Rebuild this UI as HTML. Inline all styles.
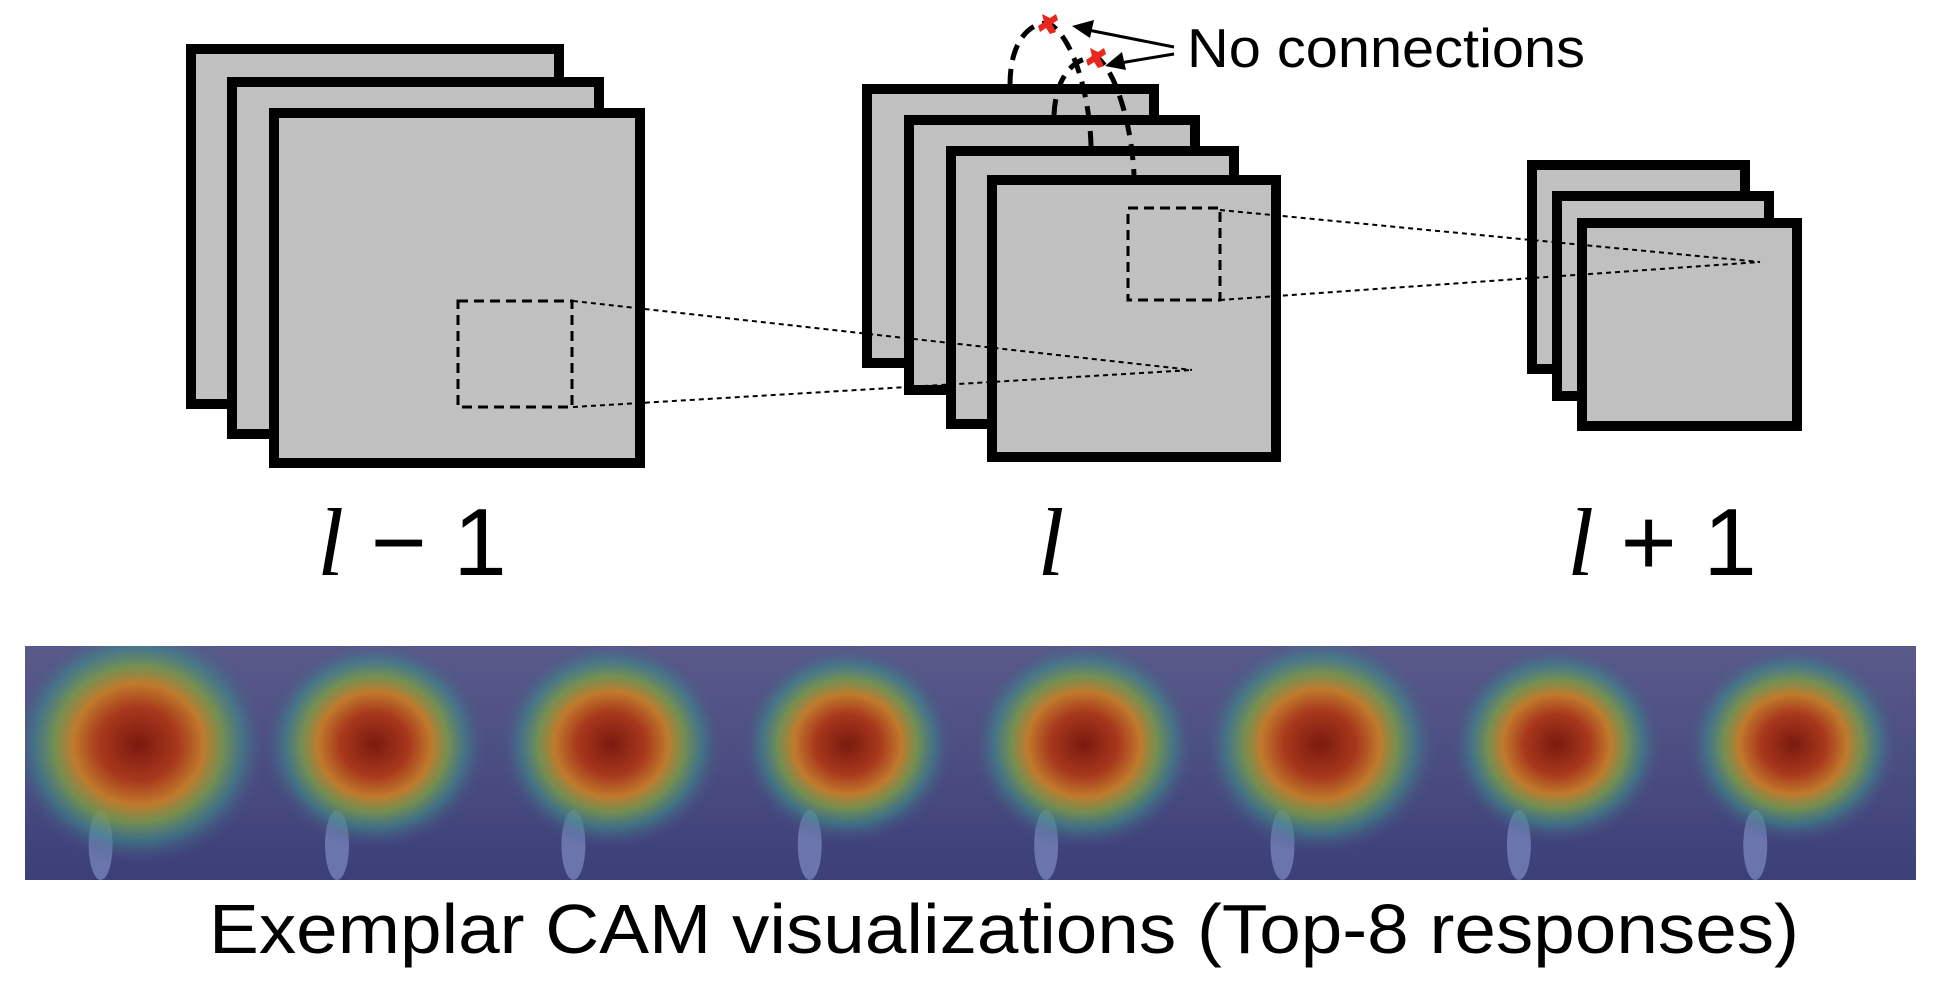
<!DOCTYPE html>
<html><head><meta charset="utf-8"><style>
html,body{margin:0;padding:0;background:#fff;}
svg{display:block;}
text{font-family:"Liberation Sans",sans-serif;}
.m{font-family:"Liberation Serif",serif;font-style:italic;}
</style></head><body>
<svg width="1944" height="1002" viewBox="0 0 1944 1002">
<defs>
<radialGradient id="heat" cx="0.5" cy="0.5" r="0.5">
<stop offset="0" stop-color="#7a1a10"/>
<stop offset="0.3" stop-color="#a8381c"/>
<stop offset="0.5" stop-color="#c07a2c"/>
<stop offset="0.65" stop-color="#7a9a4a" stop-opacity="0.85"/>
<stop offset="0.8" stop-color="#3f8a8a" stop-opacity="0.6"/>
<stop offset="1" stop-color="#4a4f86" stop-opacity="0"/>
</radialGradient>
<linearGradient id="bg" x1="0" y1="0" x2="0" y2="1">
<stop offset="0" stop-color="#5a5a8a"/>
<stop offset="1" stop-color="#3c3f78"/>
</linearGradient>
<clipPath id="stripClip"><rect x="25" y="646" width="1891" height="234"/></clipPath>
</defs>

<g fill="#c0c0c0" stroke="#000" stroke-width="10">
<rect x="191" y="49" width="368" height="355"/>
<rect x="232" y="82" width="367" height="352"/>
<rect x="274" y="113" width="366" height="350"/>
</g>
<rect x="458" y="301" width="114" height="106" fill="none" stroke="#000" stroke-width="3" stroke-dasharray="10,6"/>

<g fill="#c0c0c0" stroke="#000" stroke-width="10">
<rect x="867" y="89" width="287" height="274"/>
<rect x="909" y="120" width="286" height="270"/>
<rect x="951" y="151" width="283" height="273"/>
<rect x="992" y="180" width="284" height="277"/>
</g>
<rect x="1128" y="208" width="92" height="92" fill="none" stroke="#000" stroke-width="3" stroke-dasharray="10,6"/>

<g fill="#c0c0c0" stroke="#000" stroke-width="10">
<rect x="1532" y="165" width="213" height="204"/>
<rect x="1557" y="196" width="212" height="200"/>
<rect x="1582" y="223" width="215" height="203"/>
</g>

<g stroke="#000" stroke-width="2" stroke-dasharray="5,4" fill="none">
<line x1="573" y1="301" x2="1192" y2="370"/>
<line x1="573" y1="407" x2="1192" y2="370"/>
<line x1="1220" y1="210" x2="1760" y2="262"/>
<line x1="1220" y1="300" x2="1760" y2="262"/>
</g>

<g stroke="#000" stroke-width="5" stroke-dasharray="16,9" fill="none">
<path d="M1010,85 C1010,30 1040,20 1050,24 C1075,40 1090,100 1091,146"/>
<path d="M1054,115 C1056,70 1080,55 1098,58 C1118,75 1132,130 1134,175"/>
</g>
<g fill="#e8281e">
<path d="M1042,14 l8,4 l6,-4 l2,6 l-6,4 l4,8 l-6,2 l-4,-6 l-6,4 l-2,-6 l6,-4 z"/>
<path d="M1090,48 l8,4 l6,-4 l2,6 l-6,4 l4,8 l-6,2 l-4,-6 l-6,4 l-2,-6 l6,-4 z"/>
</g>
<g stroke="#000" stroke-width="3" fill="#000">
<line x1="1174" y1="47" x2="1088" y2="30"/>
<polygon points="1072,26 1094,20 1090,38" stroke="none"/>
<line x1="1174" y1="54" x2="1120" y2="63"/>
<polygon points="1105,66 1122,52 1126,70" stroke="none"/>
</g>
<text x="1187" y="67" font-size="55" textLength="398" lengthAdjust="spacingAndGlyphs">No connections</text>

<text x="412" y="575" font-size="96" text-anchor="middle"><tspan class="m">l</tspan> − 1</text>
<text x="1051" y="575" font-size="96" text-anchor="middle" class="m">l</text>
<text x="1662" y="575" font-size="96" text-anchor="middle"><tspan class="m">l</tspan> + 1</text>

<g id="strip" clip-path="url(#stripClip)"></g>

<text x="209" y="953" font-size="70" textLength="1590" lengthAdjust="spacingAndGlyphs">Exemplar CAM visualizations (Top-8 responses)</text>
</svg>
<script>
const tileIndex=[1,2,3,4,5,6,7,8];
const blobScale=[1.15,1.0,1.0,0.95,1.0,1.05,0.95,0.95];
const g=document.getElementById('strip');
const ns='http://www.w3.org/2000/svg';
const x0=25,w=1891/8,y0=646,h=234;
tileIndex.forEach((t,i)=>{
  const tx=x0+i*w;
  const grp=document.createElementNS(ns,'g');
  
  
  const r=document.createElementNS(ns,'rect');
  r.setAttribute('x',tx);r.setAttribute('y',y0);r.setAttribute('width',w+0.5);r.setAttribute('height',h);
  r.setAttribute('fill','url(#bg)');
  grp.appendChild(r);
  const e2=document.createElementNS(ns,'ellipse');
  e2.setAttribute('cx',tx+w*0.32);e2.setAttribute('cy',y0+h*0.85);e2.setAttribute('rx',12);e2.setAttribute('ry',35);
  e2.setAttribute('fill','#8fa0d8');e2.setAttribute('opacity','0.55');
  grp.appendChild(e2);
  const e=document.createElementNS(ns,'ellipse');
  const s=blobScale[i];
  e.setAttribute('cx',tx+w*0.48);e.setAttribute('cy',y0+h*0.42);
  e.setAttribute('rx',w*0.48*s);e.setAttribute('ry',h*0.45*s);
  e.setAttribute('fill','url(#heat)');
  grp.appendChild(e);
  g.appendChild(grp);
});
</script>
</body></html>
